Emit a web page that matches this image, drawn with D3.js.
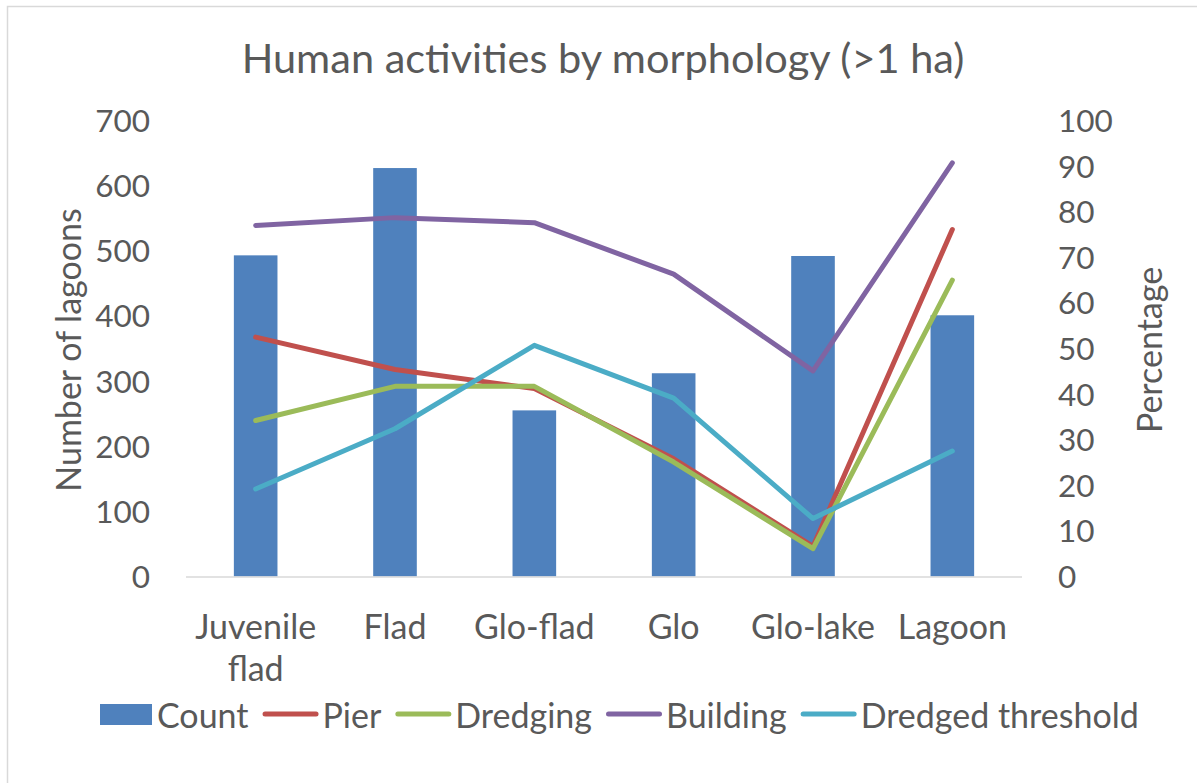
<!DOCTYPE html>
<html>
<head>
<meta charset="utf-8">
<script src="https://cdn.jsdelivr.net/npm/d3@7"></script>
<style>
  body { margin: 0; background: #fff; }
  svg { display: block; font-family: Lato, "Open Sans", sans-serif; }
</style>
</head>
<body>
<svg id="chart" width="1197" height="783"></svg>
<script>
var categories = ['Juvenile flad', 'Flad', 'Glo-flad', 'Glo', 'Glo-lake', 'Lagoon'];
var count = [493, 627, 255, 312, 492, 401];
var pier = [52.5, 45.4, 41.2, 25.8, 6.6, 76.1];
var dredging = [34.2, 41.7, 41.7, 25.1, 6.1, 65.0];
var building = [77.0, 78.7, 77.6, 66.3, 45.1, 90.7];
var dredgedThreshold = [19.2, 32.4, 50.7, 39.1, 12.7, 27.5];
var leftTicks = [0, 100, 200, 300, 400, 500, 600, 700];
var rightTicks = [0, 10, 20, 30, 40, 50, 60, 70, 80, 90, 100];

var lineSeries = [
  { name: 'Pier', values: pier, color: '#C0504D' },
  { name: 'Dredging', values: dredging, color: '#9BBB59' },
  { name: 'Building', values: building, color: '#8064A2' },
  { name: 'Dredged threshold', values: dredgedThreshold, color: '#4BACC6' }
];

var text_color = '#595959';
var label_size = '34px';
var svg = d3.select('#chart');

// chart area border
svg.append('rect')
  .attr('x', 7.5).attr('y', 6.5)
  .attr('width', 1220).attr('height', 820)
  .attr('fill', 'none')
  .attr('stroke', '#d9d9d9')
  .attr('stroke-width', 1.5);

var plot = { left: 186, right: 1022, top: 120.5, bottom: 576.5 };

var x = d3.scaleBand().domain(categories).range([plot.left, plot.right]).padding(0);
var yLeft = d3.scaleLinear().domain([0, 700]).range([plot.bottom, plot.top]);
var yRight = d3.scaleLinear().domain([0, 100]).range([plot.bottom, plot.top]);
var bar_w = x.bandwidth() * 0.313;

// title
svg.append('text')
  .attr('x', 603).attr('y', 57)
  .attr('text-anchor', 'middle')
  .attr('dominant-baseline', 'central')
  .style('font-size', '41.5px')
  .style('fill', text_color)
  .text('Human activities by morphology (>1 ha)');

// bars
svg.append('g').selectAll('rect')
  .data(count)
  .enter()
  .append('rect')
  .attr('x', (d, i) => x(categories[i]) + x.bandwidth() / 2 - bar_w / 2)
  .attr('y', d => yLeft(d))
  .attr('width', bar_w)
  .attr('height', d => yLeft(0) - yLeft(d))
  .attr('fill', '#4F81BD');

// category axis line
svg.append('line')
  .attr('x1', plot.left).attr('x2', plot.right)
  .attr('y1', plot.bottom + 0.5).attr('y2', plot.bottom + 0.5)
  .attr('stroke', '#d9d9d9')
  .attr('stroke-width', 1.5);

// lines
var line = d3.line()
  .x((d, i) => x(categories[i]) + x.bandwidth() / 2)
  .y(d => yRight(d));

svg.append('g').selectAll('path')
  .data(lineSeries)
  .enter()
  .append('path')
  .attr('d', d => line(d.values))
  .attr('fill', 'none')
  .attr('stroke', d => d.color)
  .attr('stroke-width', 5)
  .attr('stroke-linejoin', 'round')
  .attr('stroke-linecap', 'round');

// left axis
var left_axis = svg.append('g')
  .attr('transform', 'translate(150,0)')
  .call(d3.axisLeft(yLeft).tickValues(leftTicks).tickSize(0).tickPadding(0));
left_axis.select('.domain').remove();
left_axis.selectAll('text')
  .style('font-size', '31.5px')
  .style('font-family', 'Lato, "Open Sans", sans-serif')
  .style('fill', text_color)
  .attr('dy', '0.35em');

// right axis
var right_axis = svg.append('g')
  .attr('transform', 'translate(1058,0)')
  .call(d3.axisRight(yRight).tickValues(rightTicks).tickSize(0).tickPadding(0));
right_axis.select('.domain').remove();
right_axis.selectAll('text')
  .style('font-size', '31.5px')
  .style('font-family', 'Lato, "Open Sans", sans-serif')
  .style('fill', text_color)
  .attr('dy', '0.35em');

// axis titles
svg.append('text')
  .attr('transform', 'translate(67,350) rotate(-90)')
  .attr('text-anchor', 'middle')
  .attr('dominant-baseline', 'central')
  .style('font-size', label_size)
  .style('fill', text_color)
  .text('Number of lagoons');

svg.append('text')
  .attr('transform', 'translate(1148,350) rotate(-90)')
  .attr('text-anchor', 'middle')
  .attr('dominant-baseline', 'central')
  .style('font-size', label_size)
  .style('fill', text_color)
  .text('Percentage');

// category labels, wrapped when wider than the band
var cat_group = svg.append('g');
categories.forEach(function(c) {
  var t = cat_group.append('text')
    .attr('text-anchor', 'middle')
    .style('font-size', label_size)
    .style('fill', text_color)
    .text(c);
  var lines = [c];
  if (t.node().getComputedTextLength() > x.bandwidth() && c.indexOf(' ') > 0) {
    lines = c.split(' ');
  }
  t.text(null);
  lines.forEach(function(l, j) {
    t.append('tspan')
      .attr('x', x(c) + x.bandwidth() / 2)
      .attr('y', 625 + j * 42)
      .attr('dominant-baseline', 'central')
      .text(l);
  });
});

// legend
var legend_items = [{ name: 'Count', color: '#4F81BD', type: 'bar' }]
  .concat(lineSeries.map(d => ({ name: d.name, color: d.color, type: 'line' })));
var legend = svg.append('g');
var lx = 100;
var ly = 714;
legend_items.forEach(function(d) {
  if (d.type === 'bar') {
    legend.append('rect')
      .attr('x', lx).attr('y', ly - 10)
      .attr('width', 52).attr('height', 21)
      .attr('fill', d.color);
    lx += 57;
  } else {
    legend.append('line')
      .attr('x1', lx + 2.5).attr('x2', lx + 53.5)
      .attr('y1', ly).attr('y2', ly)
      .attr('stroke', d.color)
      .attr('stroke-width', 5)
      .attr('stroke-linecap', 'round');
    lx += 60;
  }
  var t = legend.append('text')
    .attr('x', lx).attr('y', ly)
    .attr('dominant-baseline', 'central')
    .style('font-size', label_size)
    .style('fill', text_color)
    .text(d.name);
  lx += t.node().getComputedTextLength() + 14;
});
</script>
</body>
</html>
